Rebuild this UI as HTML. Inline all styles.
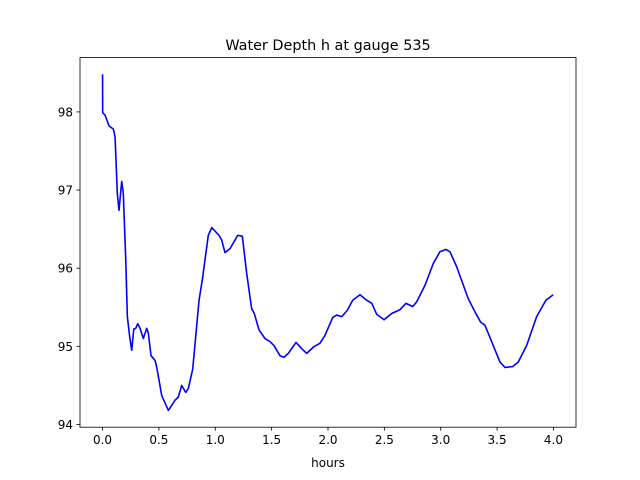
<!DOCTYPE html>
<html><head><meta charset="utf-8"><style>
html,body{margin:0;padding:0;background:#fff;}
svg{display:block;font-family:"DejaVu Sans","Liberation Sans",sans-serif;}
</style></head><body>
<svg id="chart" width="640" height="480" viewBox="0 0 640 480" xmlns="http://www.w3.org/2000/svg">
<rect x="0" y="0" width="640" height="480" fill="#fff"/>
<text x="328" y="50" font-size="14.4" text-anchor="middle" fill="#000">Water Depth h at gauge 535</text>
<g id="ticks"></g>
<path id="series" fill="none" stroke="#0000ff" stroke-width="1.6" stroke-linejoin="round"/>
<rect x="80" y="57.6" width="496" height="369.6" fill="none" stroke="#000" stroke-width="0.8"/>
<text x="328" y="467" font-size="12" text-anchor="middle" fill="#000">hours</text>
</svg>
<script>
const hours = [0,0.001,0.022,0.058,0.096,0.111,0.131,0.146,0.170,0.184,0.206,0.220,0.241,0.259,0.277,0.294,0.312,0.333,0.362,0.392,0.406,0.430,0.466,0.481,0.525,0.584,0.643,0.672,0.702,0.738,0.761,0.800,0.856,0.885,0.938,0.969,1.033,1.057,1.086,1.131,1.199,1.240,1.279,1.323,1.346,1.388,1.441,1.486,1.521,1.574,1.610,1.648,1.716,1.767,1.811,1.870,1.929,1.973,2.042,2.077,2.122,2.171,2.219,2.284,2.343,2.388,2.432,2.497,2.565,2.639,2.692,2.751,2.787,2.860,2.934,2.993,3.047,3.082,3.141,3.244,3.304,3.354,3.392,3.452,3.525,3.570,3.638,3.688,3.762,3.851,3.933,3.998];
const depth = [98.48,97.99,97.96,97.82,97.78,97.68,96.96,96.74,97.11,96.96,96.10,95.38,95.12,94.95,95.22,95.23,95.29,95.23,95.10,95.23,95.17,94.88,94.82,94.73,94.37,94.18,94.31,94.35,94.50,94.41,94.46,94.71,95.59,95.85,96.42,96.52,96.42,96.36,96.20,96.25,96.42,96.41,95.93,95.48,95.42,95.21,95.10,95.06,95.01,94.88,94.86,94.91,95.05,94.97,94.91,94.99,95.04,95.14,95.37,95.40,95.38,95.46,95.59,95.66,95.59,95.55,95.41,95.34,95.42,95.47,95.55,95.51,95.57,95.78,96.06,96.21,96.24,96.21,96.02,95.61,95.44,95.31,95.27,95.06,94.80,94.73,94.74,94.80,95.01,95.38,95.59,95.66];
const xTicks = [0,0.5,1,1.5,2,2.5,3,3.5,4];
const xTickLabels = ["0.0","0.5","1.0","1.5","2.0","2.5","3.0","3.5","4.0"];
const yTicks = [94,95,96,97,98];
const yTickLabels = ["94","95","96","97","98"];

const L=80,R=576,T=57.6,B=427.2;
const xMin=-0.2,xMax=4.2,yMin=93.965,yMax=98.695;
function sx(v){return L+(v-xMin)/(xMax-xMin)*(R-L);}
function sy(v){return B-(v-yMin)/(yMax-yMin)*(B-T);}
const NS="http://www.w3.org/2000/svg";
const g=document.getElementById('ticks');
xTicks.forEach((t,i)=>{
  const l=document.createElementNS(NS,'line');
  l.setAttribute('x1',sx(t));l.setAttribute('x2',sx(t));l.setAttribute('y1',B);l.setAttribute('y2',B+3.5);
  l.setAttribute('stroke','#000');l.setAttribute('stroke-width','0.8');
  
  
  g.appendChild(l);
  const tx=document.createElementNS(NS,'text');
  tx.setAttribute('x',sx(t));tx.setAttribute('y',B+17);tx.setAttribute('font-size','12');tx.setAttribute('text-anchor','middle');
  tx.textContent=xTickLabels[i];
  
  
  g.appendChild(tx);
});
yTicks.forEach((t,i)=>{
  const l=document.createElementNS(NS,'line');
  l.setAttribute('x1',L-3.5);l.setAttribute('x2',L);l.setAttribute('y1',sy(t));l.setAttribute('y2',sy(t));
  l.setAttribute('stroke','#000');l.setAttribute('stroke-width','0.8');
  
  
  g.appendChild(l);
  const tx=document.createElementNS(NS,'text');
  tx.setAttribute('x',L-7);tx.setAttribute('y',sy(t)+4.5);tx.setAttribute('font-size','12');tx.setAttribute('text-anchor','end');
  tx.textContent=yTickLabels[i];
  
  
  g.appendChild(tx);
});
let d='';
hours.forEach((h,i)=>{d+=(i?'L':'M')+sx(h).toFixed(2)+','+sy(depth[i]).toFixed(2);});
document.getElementById('series').setAttribute('d',d);
</script>
</body></html>
